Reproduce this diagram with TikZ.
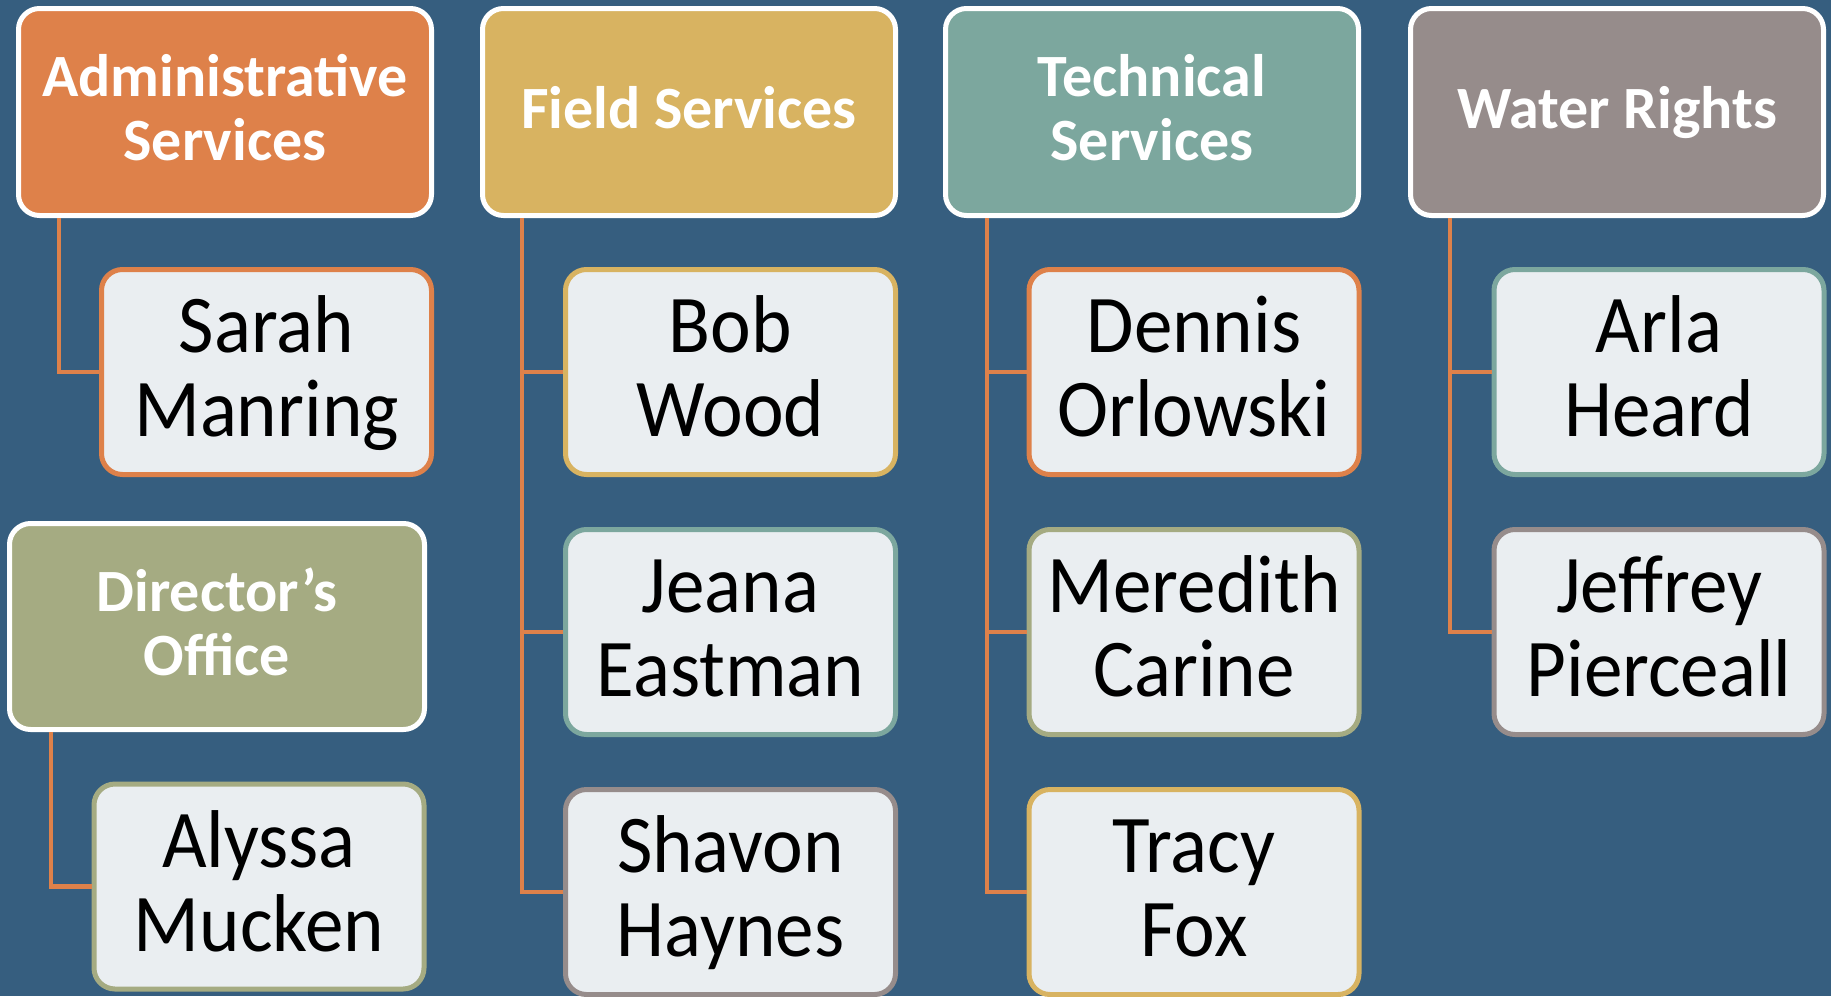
\documentclass[tikz,border=0pt]{standalone}
\usepackage{fontspec}
\setmainfont{Carlito}
\newfontfamily\namefont[FakeStretch=0.94]{Carlito}

\definecolor{bgblue}{RGB}{54,94,127}
\definecolor{deptorange}{RGB}{222,129,74}
\definecolor{deptgold}{RGB}{216,179,97}
\definecolor{deptteal}{RGB}{124,167,158}
\definecolor{depttaupe}{RGB}{150,140,139}
\definecolor{deptolive}{RGB}{165,171,130}
\definecolor{cardfill}{RGB}{234,238,241}

% two-line texts with fixed struts so every box centres its text the same way
\newcommand{\headtwo}[2]{\rule{0pt}{48pt}#1\\#2\rule[-15pt]{0pt}{15pt}}
\newcommand{\headone}[1]{\rule{0pt}{48pt}#1\rule[-15pt]{0pt}{15pt}}
\newcommand{\person}[2]{\rule{0pt}{65pt}#1\\#2\rule[-20pt]{0pt}{20pt}}

\tikzset{
  dept/.style={draw=white, fill=#1, line width=5pt, rounded corners=21pt,
    minimum width=413pt, minimum height=207pt, inner sep=0pt, align=center,
    text=white, font=\fontsize{60}{64}\selectfont\bfseries},
  staff/.style={draw=#1, fill=cardfill, line width=5pt, rounded corners=21pt,
    minimum width=330pt, minimum height=205pt, inner sep=0pt, align=center,
    text=black, font=\namefont\fontsize{82}{84}\selectfont},
  link/.style={draw=deptorange, line width=4.5pt}
}

\begin{document}
\begin{tikzpicture}[x=1pt,y=-1pt]
  \useasboundingbox (0,0) rectangle (1831,996);
  \fill[bgblue] (0,0) rectangle (1831,996);

  % department headers
  \node[dept=deptorange] (adm) at (225,112) {\headtwo{Administrative}{Services}};
  \node[dept=deptgold]   (fld) at (689,112) {\headone{Field Services}};
  \node[dept=deptteal]   (tec) at (1152,112) {\headtwo{Technical}{Services}};
  \node[dept=depttaupe]  (wat) at (1617,112) {\headone{Water Rights}};
  \node[dept=deptolive, minimum width=415pt, minimum height=206pt] (dir) at (217,626.5) {\headtwo{Director’s}{Office}};

  % staff
  \node[staff=deptorange] (sarah)    at (266.5,372) {\person{Sarah}{Manring}};
  \node[staff=deptolive]  (alyssa)   at (259,886.5) {\person{Alyssa}{Mucken}};

  \node[staff=deptgold]   (bob)      at (730.5,372) {\person{Bob}{Wood}};
  \node[staff=deptteal]   (jeana)    at (730.5,632) {\person{Jeana}{Eastman}};
  \node[staff=depttaupe]  (shavon)   at (730.5,892) {\person{Shavon}{Haynes}};

  \node[staff=deptorange] (dennis)   at (1194,372) {\person{Dennis}{Orlowski}};
  \node[staff=deptolive]  (meredith) at (1194,632) {\person{Meredith}{Carine}};
  \node[staff=deptgold]   (tracy)    at (1194,892) {\person{Tracy}{Fox}};

  \node[staff=deptteal]   (arla)     at (1659,372) {\person{Arla}{Heard}};
  \node[staff=depttaupe]  (jeffrey)  at (1659,632) {\person{Jeffrey}{Pierceall}};

  % reporting lines
  \draw[link] (adm.south west) ++(43,0) |- (sarah.west);
  \draw[link] (dir.south west) ++(44,0) |- (alyssa.west);

  \draw[link] (fld.south west) ++(42,0) |- (shavon.west);
  \draw[link] (fld.south west) ++(42,0) |- (jeana.west);
  \draw[link] (fld.south west) ++(42,0) |- (bob.west);

  \draw[link] (tec.south west) ++(44,0) |- (tracy.west);
  \draw[link] (tec.south west) ++(44,0) |- (meredith.west);
  \draw[link] (tec.south west) ++(44,0) |- (dennis.west);

  \draw[link] (wat.south west) ++(42,0) |- (jeffrey.west);
  \draw[link] (wat.south west) ++(42,0) |- (arla.west);
\end{tikzpicture}
\end{document}
